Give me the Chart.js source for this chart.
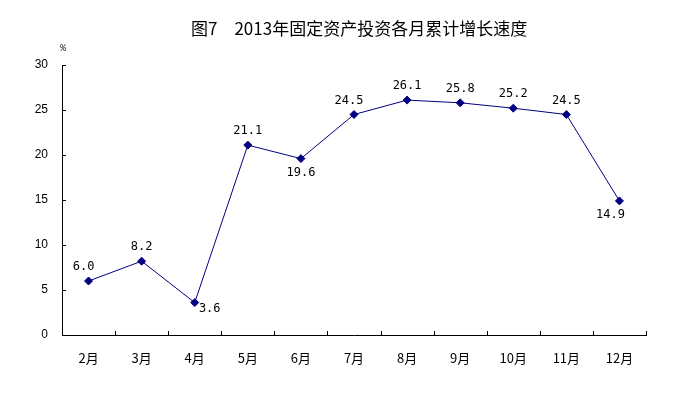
<!doctype html>
<html lang="zh">
  <head>
    <meta charset="utf-8">
    <title>图7 2013年固定资产投资各月累计增长速度</title>
    <style>
    html, body { margin: 0; padding: 0; background: #fff; }
    #wrap { width: 682px; height: 397px; }
    </style>
  </head>
  <body>
    <div id="wrap"><canvas id="canvas"></canvas></div>
    <script src="https://cdn.jsdelivr.net/npm/chart.js@4"></script>
    <script>
    // data
    const months = ['2月', '3月', '4月', '5月', '6月', '7月', '8月', '9月', '10月', '11月', '12月'];
    const growth = [6.0, 8.2, 3.6, 21.1, 19.6, 24.5, 26.1, 25.8, 25.2, 24.5, 14.9];
    const yTicks = [0, 5, 10, 15, 20, 25, 30];
    // where each value label sits relative to its point
    const labelSide = ['topLeft', 'top', 'right', 'top', 'bottom', 'topLeft', 'top', 'top', 'top', 'top', 'bottomLeft'];

    const titleText = '图7\u30002013年固定资产投资各月累计增长速度';
    const navy = '#000080';
    const cjk = '"Noto Sans CJK SC", "DejaVu Sans", sans-serif';

    // title, unit mark, inward tick marks and value labels
    const decor = {
      id: 'decor',
      afterDraw(chart) {
        const ctx = chart.ctx;
        const area = chart.chartArea;
        const y = chart.scales.y;
        ctx.save();

        ctx.fillStyle = '#000';
        ctx.font = '17px ' + cjk;
        ctx.textAlign = 'left';
        ctx.textBaseline = 'middle';
        ctx.fillText(titleText, area.left + 129, 29);

        ctx.font = 'italic 8px "DejaVu Sans"';
        ctx.textAlign = 'center';
        ctx.fillText('%', area.left + 1, 49);

        ctx.strokeStyle = '#000';
        ctx.lineWidth = 1;
        ctx.beginPath();
        yTicks.forEach(v => {
          const py = Math.round(y.getPixelForValue(v)) + 0.5;
          ctx.moveTo(area.left, py);
          ctx.lineTo(area.left + 4, py);
        });
        const step = (area.right - area.left) / months.length;
        for (let i = 1; i <= months.length; i++) {
          const px = Math.round(area.left + i * step) + 0.5;
          ctx.moveTo(px, area.bottom);
          ctx.lineTo(px, area.bottom - 4);
        }
        ctx.stroke();

        const meta = chart.getDatasetMeta(0);
        ctx.font = '12px "DejaVu Sans Mono", monospace';
        ctx.fillStyle = '#000';
        ctx.textAlign = 'center';
        ctx.textBaseline = 'middle';
        meta.data.forEach((pt, i) => {
          const side = labelSide[i];
          let dx = 0, dy = -14;
          if (side === 'topLeft') dx = -5;
          if (side === 'bottom') dy = 14;
          if (side === 'bottomLeft') { dx = -9; dy = 14; }
          if (side === 'right') { dx = 15; dy = 6; }
          ctx.fillText(growth[i].toFixed(1), pt.x + dx, pt.y + dy);
        });
        ctx.restore();
      }
    };

    new Chart(document.getElementById('canvas'), {
      type: 'line',
      data: {
        labels: months,
        datasets: [{
          data: growth,
          borderColor: navy,
          borderWidth: 1,
          backgroundColor: navy,
          pointStyle: 'rectRot',
          pointRadius: 4,
          pointBorderWidth: 1,
          pointBackgroundColor: navy,
          pointBorderColor: navy,
          tension: 0
        }]
      },
      options: {
        responsive: true,
        maintainAspectRatio: false,
        animation: false,
        layout: { padding: { left: 0, right: 36, top: 65, bottom: 0 } },
        plugins: {
          legend: { display: false },
          title: { display: false },
          tooltip: { enabled: false }
        },
        scales: {
          x: {
            offset: true,
            grid: { display: false, drawTicks: false },
            border: { display: true, color: '#000', width: 1 },
            ticks: {
              color: '#000',
              padding: 15,
              font: { size: 13, family: cjk }
            },
            afterFit(scale) { scale.height = 62; }
          },
          y: {
            min: 0,
            max: 30,
            grid: { display: false, drawTicks: false },
            border: { display: true, color: '#000', width: 1 },
            ticks: {
              stepSize: 5,
              color: '#000',
              padding: 14,
              font: { size: 12, family: '"Liberation Sans", Arial, sans-serif' }
            },
            afterFit(scale) { scale.width = 62; }
          }
        }
      },
      plugins: [decor]
    });
    </script>
  </body>
</html>
